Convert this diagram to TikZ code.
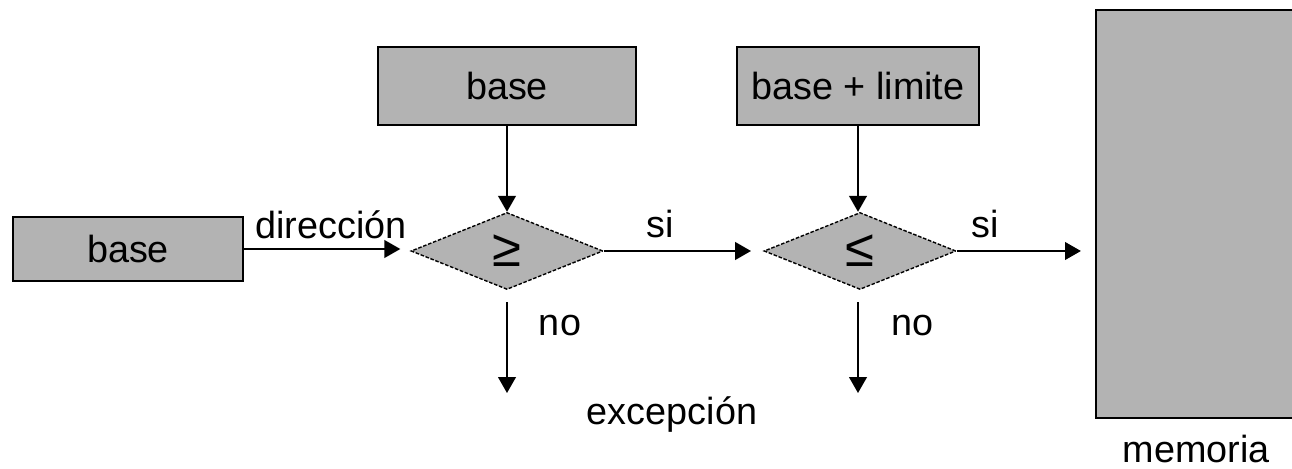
\documentclass[tikz,border=0pt]{standalone}
\usepackage{fontspec}
\setmainfont{Liberation Sans}
\usetikzlibrary{shapes,arrows.meta}
\definecolor{boxgray}{RGB}{179,179,179}
\tikzset{
  regbox/.style={draw, line width=1.2pt, fill=boxgray, inner sep=0pt},
  cmpbox/.style={shape=diamond, draw, fill=boxgray, line width=0.8pt,
    dash pattern=on 2pt off 1pt, inner sep=0pt,
    minimum width=3.84cm, minimum height=1.54cm,
    font=\fontsize{30}{32}\selectfont},
  flow/.style={line width=1.1pt, -{Triangle[length=9pt,width=10pt]}}
}

\begin{document}
\begin{tikzpicture}[x=0.02cm, y=-0.02cm, font=\fontsize{21.5}{24}\selectfont]
  \useasboundingbox (0,0) rectangle (1292,469);
  \begin{scope}
  \path     (128,249) node[regbox, minimum width=4.6cm, minimum height=1.28cm] (base1) {base};
  \path     (507,86) node[regbox, minimum width=5.16cm, minimum height=1.56cm] (base2) {base};
  \path     (858,86) node[regbox, minimum width=4.84cm, minimum height=1.56cm] (lim) {base + limite};
  \path     (507,251) node[cmpbox] (ge) {≥};
  \path     (860,251) node[cmpbox] (le) {≤};
  \path     (1196,214) node[regbox, minimum width=4cm, minimum height=8.16cm] (mem) {};
  \coordinate (exc1) at (507,393);
  \coordinate (exc2) at (858,393);
  \path     (331,225) node {dirección};
  \path     (660,224) node {si};
  \path     (985,224) node {si};
  \path     (560,326) node {no};
  \path     (912,326) node {no};
  \path     (672,415) node {excepción};
  \path     (1196,449) node {memoria};
  \end{scope}
  \begin{scope}[flow]
    \draw[shorten >=5.7pt] (base1.east) -- (base1.east -| ge.west);
    \draw         (base2.south) -- (ge.north);
    \draw         (base2.south -| lim.south) -- (lim.south |- le.north);
    \draw[shorten >=7pt] (ge.east) -- (le.west);
    \draw[shorten >=8pt] (le.east) -- (le.east -| mem.west);
    \draw[shorten <=7pt] (ge.south) -- (exc1);
    \draw[shorten <=7pt] (le.south -| exc2) -- (exc2);
  \end{scope}
\end{tikzpicture}
\end{document}
